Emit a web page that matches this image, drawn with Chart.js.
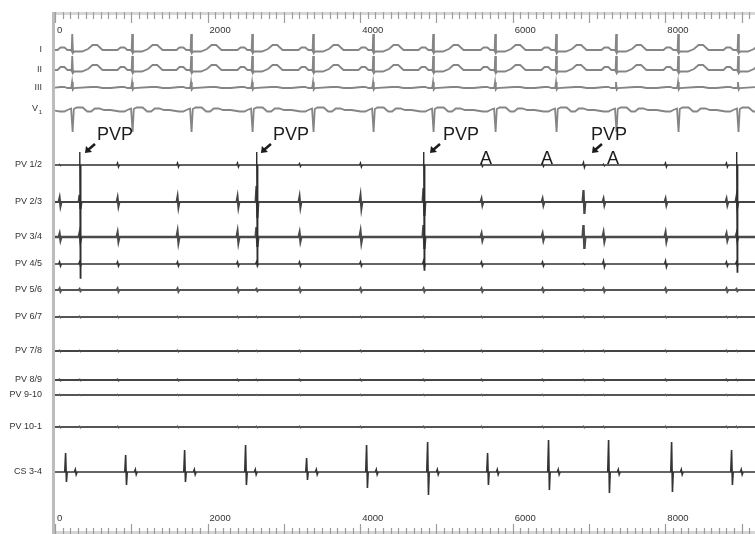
<!DOCTYPE html>
<html>
<head>
<meta charset="utf-8">
<script src="https://cdn.jsdelivr.net/npm/chart.js@4.4.1/dist/chart.umd.min.js"></script>
<style>
  html, body { margin: 0; padding: 0; background: #fff; }
  #wrap { width: 755px; height: 534px; }
</style>
</head>
<body>
<div id="wrap"><canvas id="ecgChart" width="755" height="534"></canvas></div>
<script>
// channel names, top to bottom
var channels = ['I', 'II', 'III', 'V1', 'PV 1/2', 'PV 2/3', 'PV 3/4', 'PV 4/5', 'PV 5/6',
                'PV 6/7', 'PV 7/8', 'PV 8/9', 'PV 9-10', 'PV 10-1', 'CS 3-4'];
var xTicks = [0, 2000, 4000, 6000, 8000];

// surface ECG QRS times (ms)
var qrsTimes = [223, 1009, 1782, 2582, 3381, 4168, 4954, 5767, 6566, 7352, 8165, 8951];

// PV catheter events (ms) and deflection size on each bipole
var pvTimes = [66, 328, 826, 1612, 2398, 2647, 3211, 4010, 4836, 5596, 6396, 6933, 7195, 8008, 8807, 8938];
var pv12 = [0.5, 3, 2, 2, 2, 3, 1.5, 2, 3, 1.5, 1.5, 2.5, 0.8, 2, 2, 3];
var pv12Long = [0, 113, 0, 0, 0, 98, 0, 0, 105, 0, 0, 0, 0, 0, 0, 107];
var pv23 = [4, 7, 4, 5, 5, 16, 5, 6, 14, 3, 3, 12, 3, 3, 3, 5];
var pv34 = [3, 4, 4, 5, 5, 10, 4, 5, 12, 3, 3, 12, 4, 4, 3, 3];
var pv45 = [2, 2, 2, 2, 2, 2, 2, 2, 3, 2, 2, 0.5, 3, 3, 2, 2];
var pv56 = [1.5, 1, 1.5, 1.5, 1.5, 1, 1.5, 1.5, 1.5, 1.5, 1.5, 0.5, 1.5, 1.5, 1.5, 1];
var pv67 = [0.5, 0.5, 0.5, 0.5, 0.5, 0.5, 0.5, 0.5, 0.5, 0.5, 0.5, 0.5, 0.5, 0.5, 0.5, 0.5];
var pv78 = [0.6, 0.4, 0.6, 0.6, 0.6, 0.4, 0.6, 0.6, 0.6, 0.6, 0.6, 0.4, 0.6, 0.6, 0.6, 0.4];
var pv89 = [0.5, 0.4, 0.5, 0.5, 0.5, 0.4, 0.5, 0.5, 0.5, 0.5, 0.5, 0.4, 0.5, 0.5, 0.5, 0.4];
var pv910 = [0.4, 0.3, 0.4, 0.4, 0.4, 0.3, 0.4, 0.4, 0.4, 0.4, 0.4, 0.3, 0.4, 0.4, 0.4, 0.3];
var pv101 = [0.6, 0.5, 0.6, 0.6, 0.6, 0.5, 0.6, 0.6, 0.6, 0.6, 0.6, 0.5, 0.6, 0.6, 0.6, 0.5];

// coronary sinus
var csTimes = [144, 931, 1704, 2503, 3303, 4089, 4889, 5675, 6474, 7261, 8087, 8873];
var csUp = [19, 17, 22, 27, 14, 27, 30, 19, 32, 32, 30, 22];
var csDown = [10, 13, 10, 13, 8, 16, 23, 13, 18, 21, 20, 13];

// annotations (ms)
var arrowTimes = [393, 2699, 4915, 7038];
var pvpTextTimes = [550, 2857, 5085, 7025];
var aTextTimes = [5649, 6448, 7313];

// layout: baseline of each channel in canvas rows
var baseY = [50, 70, 88, 110, 165, 202, 237, 264, 290, 317, 351, 380, 395, 427, 472];
var X_MAX = 9175;

// beat shapes [ms from QRS, deflection up]
var shapeI = [[-280,0],[-190,0],[-150,2.5],[-100,2.5],[-60,0],[-12,0],[-5,-1],[3,16],[13,-3],[30,-1.5],[130,-1.5],[210,1],[270,5],[330,5],[400,0],[470,0]];
var shapeII = [[-280,0],[-190,0],[-150,3],[-100,3],[-60,0],[-12,0],[-5,-1],[3,14],[13,-3],[30,-1.5],[130,-1.5],[210,1],[270,5],[330,5],[400,0],[470,0]];
var shapeIII = [[-280,0],[-150,1],[-100,1],[-60,0],[-10,0],[1,6],[11,-1.5],[25,0],[250,1],[330,1],[400,0],[470,0]];
var shapeV1 = [[-280,0],[-160,-1.5],[-100,-1.5],[-60,0],[-12,1.5],[8,-22],[24,1],[60,2.5],[140,2.5],[200,-1.5],[250,-1.5],[300,1.5],[360,1.5],[420,0],[470,0]];

function buildTrace(base, events) {
    var pts = [];
    events.forEach(function (ev) {
        ev.shape.forEach(function (s) {
            pts.push({ x: ev.t + s[0], y: base - s[1] });
        });
    });
    pts.sort(function (a, b) { return a.x - b.x; });
    pts.unshift({ x: 0, y: base });
    pts.push({ x: X_MAX, y: base });
    return pts;
}

function ecgEvents(shape) {
    return qrsTimes.map(function (t) { return { t: t, shape: shape }; });
}

function pvEvents(amps, longs) {
    return pvTimes.map(function (t, i) {
        var a = amps[i];
        if (longs && longs[i]) {
            return { t: t, shape: [[-10,0],[-3,13],[4,-longs[i]],[10,0]] };
        }
        return { t: t, shape: [[-18,0],[-6,a],[6,-a],[18,0]] };
    });
}

function csEvents() {
    return csTimes.map(function (t, i) {
        return { t: t, shape: [[-16,0],[-5,csUp[i]],[6,-csDown[i]],[16,0],[110,0],[122,2.5],[134,-2.5],[146,0]] };
    });
}

var traceData = [
    buildTrace(baseY[0], ecgEvents(shapeI)),
    buildTrace(baseY[1], ecgEvents(shapeII)),
    buildTrace(baseY[2], ecgEvents(shapeIII)),
    buildTrace(baseY[3], ecgEvents(shapeV1)),
    buildTrace(baseY[4], pvEvents(pv12, pv12Long)),
    buildTrace(baseY[5], pvEvents(pv23)),
    buildTrace(baseY[6], pvEvents(pv34)),
    buildTrace(baseY[7], pvEvents(pv45)),
    buildTrace(baseY[8], pvEvents(pv56)),
    buildTrace(baseY[9], pvEvents(pv67)),
    buildTrace(baseY[10], pvEvents(pv78)),
    buildTrace(baseY[11], pvEvents(pv89)),
    buildTrace(baseY[12], pvEvents(pv910)),
    buildTrace(baseY[13], pvEvents(pv101)),
    buildTrace(baseY[14], csEvents())
];

var lineColors = ['#858585', '#858585', '#858585', '#858585', '#2e2e2e', '#444', '#4a4a4a', '#333', '#555',
                  '#555', '#444', '#444', '#555', '#555', '#333'];
var lineWidths = [1.8, 1.8, 1.8, 1.8, 1.4, 2.2, 2.4, 1.6, 2.2, 1.8, 1.8, 2, 1.8, 1.8, 1.6];

var FONT = '"Liberation Sans", Arial, sans-serif';

var decor = {
    id: 'decor',
    beforeDatasetsDraw: function (chart) {
        var ctx = chart.ctx, xs = chart.scales.x, ys = chart.scales.y;
        ctx.save();
        // left border
        ctx.fillStyle = '#bcbcbc';
        ctx.fillRect(52, 12, 3, 522);
        // rulers
        ctx.fillStyle = '#d6d6d6';
        ctx.fillRect(55, 12, 700, 3);
        ctx.fillRect(55, 531, 700, 3);
        ctx.strokeStyle = '#9c9c9c';
        ctx.lineWidth = 1.2;
        for (var t = 0; t <= X_MAX; t += 100) {
            var px = Math.round(xs.getPixelForValue(t)) + 0.5;
            var major = t % 1000 === 0;
            ctx.beginPath();
            ctx.moveTo(px, 12);
            ctx.lineTo(px, major ? 23 : 19);
            ctx.moveTo(px, 534);
            ctx.lineTo(px, major ? 524 : 528);
            ctx.stroke();
        }
        // tick labels
        ctx.fillStyle = '#333';
        ctx.font = '9.5px ' + FONT;
        ctx.textAlign = 'left';
        ctx.textBaseline = 'middle';
        xTicks.forEach(function (v) {
            var px = xs.getPixelForValue(v) + 2;
            ctx.fillText(String(v), px, 30);
            ctx.fillText(String(v), px, 518);
        });
        // channel labels
        ctx.font = '9px ' + FONT;
        ctx.textAlign = 'right';
        channels.forEach(function (name, i) {
            var py = ys.getPixelForValue(baseY[i]);
            if (name === 'V1') {
                ctx.fillText('V', 38, py - 1);
                ctx.font = '6px ' + FONT;
                ctx.fillText('1', 42, py + 2);
                ctx.font = '9px ' + FONT;
            } else {
                ctx.fillText(name, 42, py);
            }
        });
        ctx.restore();
    },
    afterDatasetsDraw: function (chart) {
        var ctx = chart.ctx, xs = chart.scales.x, ys = chart.scales.y;
        ctx.save();
        ctx.fillStyle = '#1c1c1c';
        ctx.strokeStyle = '#1c1c1c';
        var tipY = ys.getPixelForValue(baseY[4] - 12);
        arrowTimes.forEach(function (t) {
            var tx = xs.getPixelForValue(t);
            ctx.lineWidth = 2.5;
            ctx.beginPath();
            ctx.moveTo(tx + 10, tipY - 9);
            ctx.lineTo(tx + 3, tipY - 3);
            ctx.stroke();
            ctx.beginPath();
            ctx.moveTo(tx, tipY);
            ctx.lineTo(tx + 1, tipY - 7);
            ctx.lineTo(tx + 7, tipY - 1);
            ctx.closePath();
            ctx.fill();
        });
        ctx.font = '18px ' + FONT;
        ctx.textAlign = 'left';
        ctx.textBaseline = 'alphabetic';
        pvpTextTimes.forEach(function (t) {
            ctx.fillText('PVP', xs.getPixelForValue(t), ys.getPixelForValue(baseY[4] - 25));
        });
        ctx.textAlign = 'center';
        aTextTimes.forEach(function (t) {
            ctx.fillText('A', xs.getPixelForValue(t), ys.getPixelForValue(baseY[4] - 1));
        });
        ctx.restore();
    }
};

var ctx = document.getElementById('ecgChart').getContext('2d');

var ecgChart = new Chart(ctx, {
    type: 'line',
    data: {
        datasets: channels.map(function (name, i) {
            return {
                label: name,
                data: traceData[i],
                borderColor: lineColors[i],
                borderWidth: lineWidths[i],
                pointRadius: 0,
                tension: 0,
                fill: false
            };
        })
    },
    options: {
        responsive: false,
        animation: false,
        devicePixelRatio: 1,
        layout: { padding: { left: 55, right: 0, top: 0, bottom: 0 } },
        scales: {
            x: { type: 'linear', min: 0, max: X_MAX, display: false },
            y: { type: 'linear', min: 0, max: 534, reverse: true, display: false }
        },
        plugins: {
            legend: { display: false },
            tooltip: { enabled: false }
        }
    },
    plugins: [decor]
});
</script>
</body>
</html>
